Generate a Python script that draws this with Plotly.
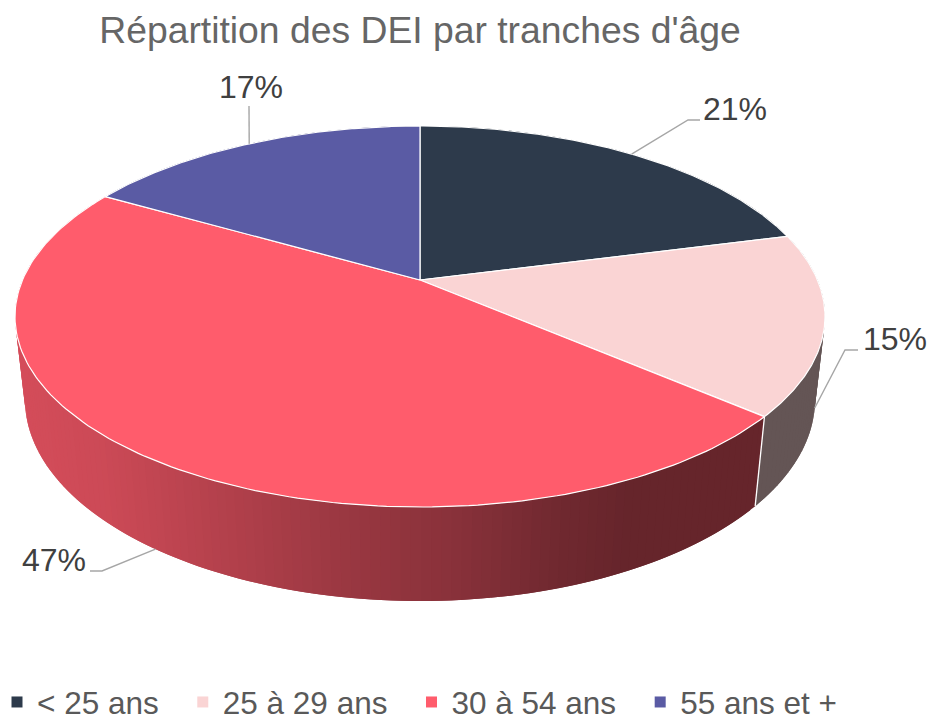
import numpy as np
import plotly.graph_objects as go

# ---- data ----
categories = ["< 25 ans", "25 à 29 ans", "30 à 54 ans", "55 ans et +"]
shares = [21.0, 15.3, 47.0, 16.7]
colors = ["#2D3A4B", "#FAD4D4", "#FF5C6C", "#5A5BA4"]

# ---- perspective of the 3D pie ----
CX, CY = 420.0, 280.0
R, S, T = 397.5, 183.5, 83.8
P, Q = 0.1916, 0.0243


def project(theta, z=0.0, r=1.0):
    u, v = r * np.sin(theta), r * np.cos(theta)
    w = 1 + P * v + Q * z
    return CX + R * u / w, CY + (-S * v + T * z) / w


def shade(x):
    return np.interp(x, [20, 100, 200, 350, 450, 560, 630], [.83, .80, .72, .60, .54, .44, .40])


def rgb(color, f):
    r, g, b = int(color[1:3], 16), int(color[3:5], 16), int(color[5:7], 16)
    return f"rgb({r*f:.0f},{g*f:.0f},{b*f:.0f})"


fracs = np.array(shares) / sum(shares)
edges = np.concatenate([[0], np.cumsum(fracs)]) * 2 * np.pi

fig = go.Figure()
common = dict(mode="lines", hoverinfo="skip", showlegend=False)

# side wall, as fine strips shaded from left to right
STEP = np.radians(1.2)
for i in range(len(shares)):
    a0, a1 = edges[i], edges[i + 1]
    n = max(int((a1 - a0) / STEP), 1)
    ts = np.linspace(a0, a1, n + 1)
    for j in range(n):
        end = ts[min(j + 2, n)]
        arc = np.linspace(ts[j], end, 5)
        xt, yt = project(arc, 0)
        xb, yb = project(arc[::-1], 1)
        f = float(shade(project((ts[j] + ts[j + 1]) / 2, 0)[0]))
        fig.add_trace(go.Scatter(x=np.r_[xt, xb], y=np.r_[yt, yb], fill="toself",
                                 fillcolor=rgb(colors[i], f), line=dict(width=0), **common))
for a in edges[:-1]:
    xt, yt = project(a, 0)
    xb, yb = project(a, 1)
    fig.add_trace(go.Scatter(x=[xt, xb], y=[yt, yb], line=dict(color="white", width=1.3), **common))

# top face
for i in range(len(shares)):
    arc = np.linspace(edges[i], edges[i + 1], 160)
    x, y = project(arc, 0)
    fig.add_trace(go.Scatter(x=np.r_[CX, x, CX], y=np.r_[CY, y, CY], fill="toself",
                             fillcolor=colors[i], line=dict(color="white", width=1.2), **common))

# leader lines and value labels
mid = (edges[:-1] + edges[1:]) / 2
leader_z = [0, 1, 1, 0]
elbows = [[(688, 120), (700, 120)], [(845, 350), (858, 350)], [(102, 571), (90, 571)], [(249, 106)]]
label_xy = [(735, 109), (895, 339), (54, 560), (251, 87)]
annotations = []
for i in range(len(shares)):
    ax, ay = project(mid[i], leader_z[i])
    xs = [ax] + [p[0] for p in elbows[i]]
    ys = [ay] + [p[1] for p in elbows[i]]
    fig.add_trace(go.Scatter(x=xs, y=ys, line=dict(color="#A6A6A6", width=1.4), **common))
    annotations.append(dict(x=label_xy[i][0], y=label_xy[i][1], xref="x", yref="y",
                            text=f"{round(shares[i])}%", showarrow=False,
                            font=dict(size=32, color="#404040", family="Liberation Sans")))

# legend entries (trailing spaces set the spacing between entries)
for name, c in zip(categories, colors):
    fig.add_trace(go.Scatter(x=[None], y=[None], mode="markers", name=name + "\u2002\u2009",
                             marker=dict(symbol="square", size=11, color=c)))

fig.update_layout(
    width=930, height=715, margin=dict(l=0, r=0, t=0, b=0, autoexpand=False),
    paper_bgcolor="white", plot_bgcolor="white",
    xaxis=dict(range=[0, 930], visible=False, fixedrange=True),
    yaxis=dict(range=[715, 0], visible=False, fixedrange=True),
    title=dict(text="Répartition des DEI par tranches d'âge", x=420 / 930, xanchor="center",
               y=1 - 30 / 715, yanchor="middle", xref="paper", yref="paper",
               font=dict(size=37.3, color="#666666", family="Liberation Sans")),
    legend=dict(orientation="h", x=0, xanchor="left", y=1 - 702 / 715, yanchor="middle",
                indentation=-3,
                font=dict(size=31.5, color="#595959", family="Liberation Sans"),
                bgcolor="rgba(0,0,0,0)", itemclick=False, itemdoubleclick=False),
    annotations=annotations,
    showlegend=True,
)
fig.write_html("out.html", config={"displayModeBar": False},
               post_script="document.body.style.margin='0';")
